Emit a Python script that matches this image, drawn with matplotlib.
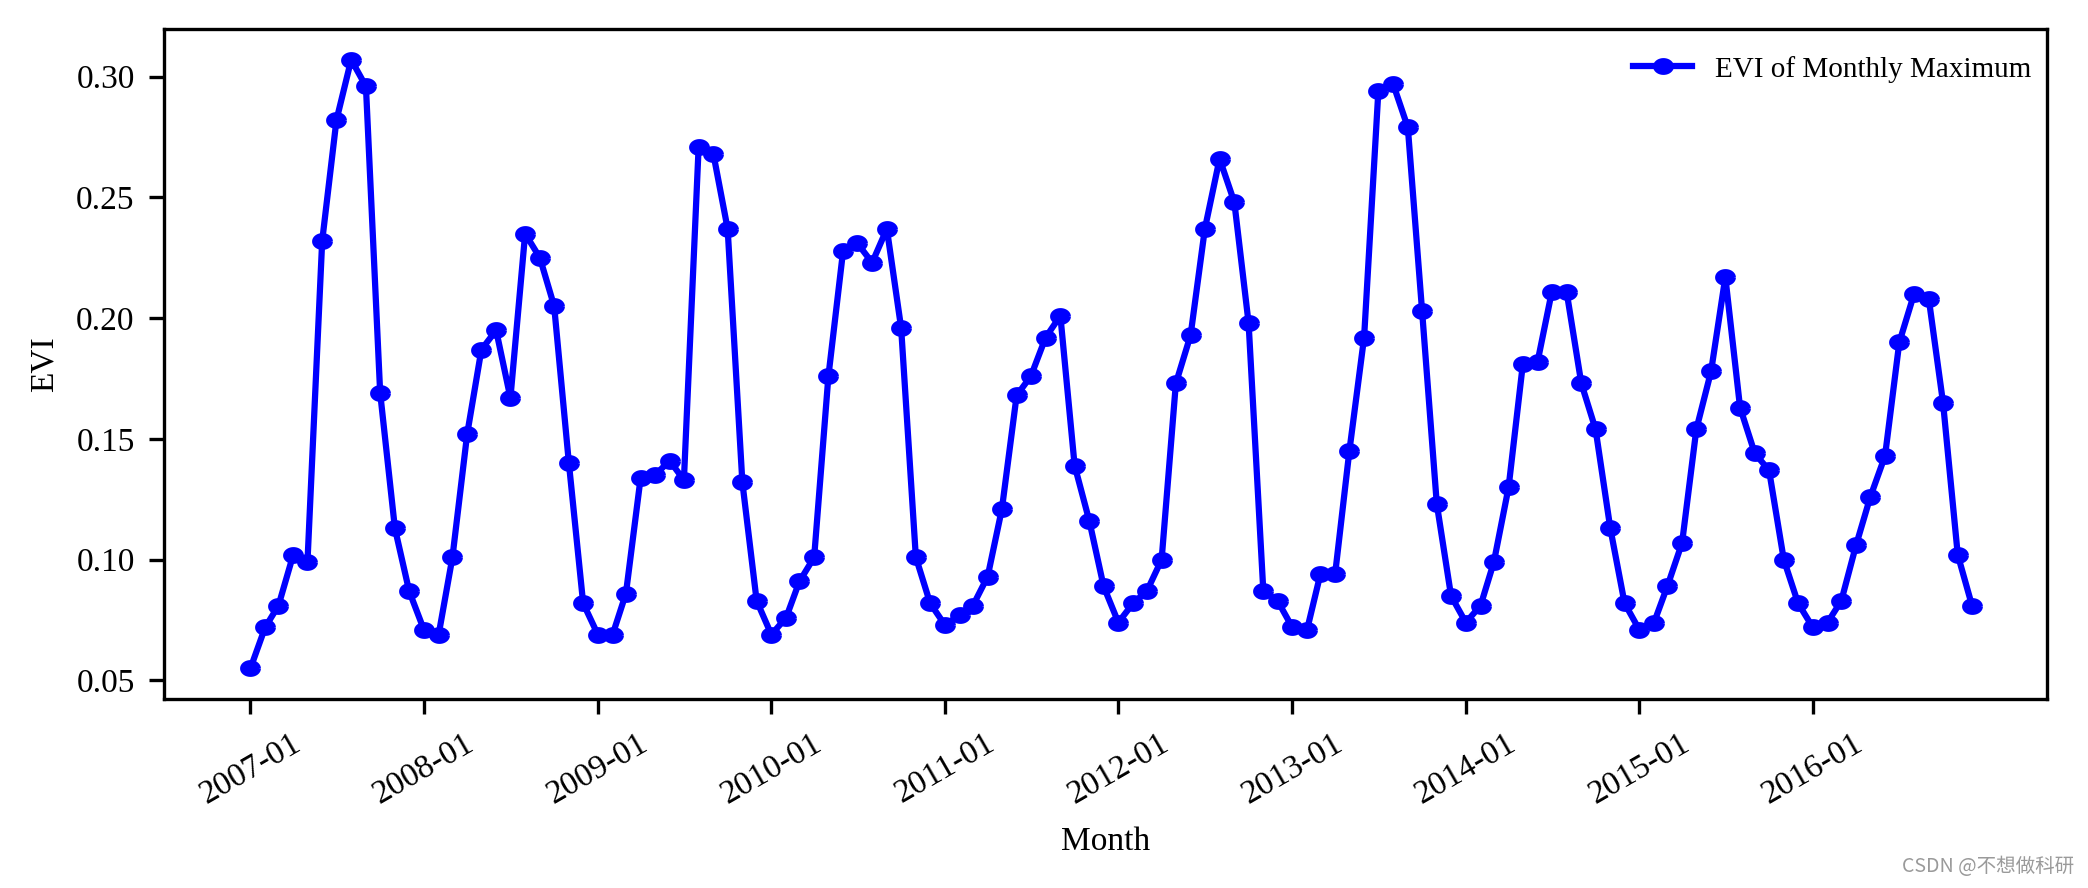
import numpy as np
import pandas as pd
import matplotlib
matplotlib.use("Agg")
import matplotlib.pyplot as plt
import matplotlib.dates as mdates

plt.rcParams['font.family'] = ['Liberation Serif', 'DejaVu Serif']

months = pd.date_range("2007-01-01", "2016-12-01", freq="MS")

evi_2007 = [0.055, 0.072, 0.081, 0.102, 0.099, 0.232, 0.282, 0.307, 0.296, 0.169, 0.113, 0.087]
evi_2008 = [0.071, 0.069, 0.101, 0.152, 0.187, 0.195, 0.167, 0.235, 0.225, 0.205, 0.140, 0.082]
evi_2009 = [0.069, 0.069, 0.086, 0.134, 0.135, 0.141, 0.133, 0.271, 0.268, 0.237, 0.132, 0.083]
evi_2010 = [0.069, 0.076, 0.091, 0.101, 0.176, 0.228, 0.231, 0.223, 0.237, 0.196, 0.101, 0.082]
evi_2011 = [0.073, 0.077, 0.081, 0.093, 0.121, 0.168, 0.176, 0.192, 0.201, 0.139, 0.116, 0.089]
evi_2012 = [0.074, 0.082, 0.087, 0.100, 0.173, 0.193, 0.237, 0.266, 0.248, 0.198, 0.087, 0.083]
evi_2013 = [0.072, 0.071, 0.094, 0.094, 0.145, 0.192, 0.294, 0.297, 0.279, 0.203, 0.123, 0.085]
evi_2014 = [0.074, 0.081, 0.099, 0.130, 0.181, 0.182, 0.211, 0.211, 0.173, 0.154, 0.113, 0.082]
evi_2015 = [0.071, 0.074, 0.089, 0.107, 0.154, 0.178, 0.217, 0.163, 0.144, 0.137, 0.100, 0.082]
evi_2016 = [0.072, 0.074, 0.083, 0.106, 0.126, 0.143, 0.190, 0.210, 0.208, 0.165, 0.102, 0.081]

evi = (evi_2007 + evi_2008 + evi_2009 + evi_2010 + evi_2011 +
       evi_2012 + evi_2013 + evi_2014 + evi_2015 + evi_2016)

series_label = "EVI of Monthly Maximum"

fig = plt.figure(figsize=(2088 / 300, 888 / 300), dpi=300)
ax = fig.add_axes([0.0785, 0.213, 0.9017, 0.754])

t = np.linspace(0, 2 * np.pi, 40)
ellipse = list(zip(np.cos(t), 0.76 * np.sin(t)))

ax.plot(months, evi, color="blue", linewidth=1.5, marker=ellipse,
        markersize=4.0, label=series_label)

ax.set_xlim(months[0] - pd.Timedelta(days=182), months[-1] + pd.Timedelta(days=157))
ax.set_xticks(months[::12])
ax.xaxis.set_major_formatter(mdates.DateFormatter("%Y-%m"))
ax.tick_params(axis="both", labelsize=8)
plt.setp(ax.get_xticklabels(), rotation=30, ha="center")
ax.set_yticks([0.05, 0.10, 0.15, 0.20, 0.25, 0.30])
ax.yaxis.set_major_formatter(matplotlib.ticker.FormatStrFormatter("%.2f"))

ax.set_xlabel("Month", fontsize=8)
ax.set_ylabel("EVI", fontsize=8)
ax.legend(loc="upper right", bbox_to_anchor=(1.0058, 1.0), frameon=False, fontsize=7)

fig.text(0.9935, 0.024, "CSDN @不想做科研", ha="right", va="center",
         fontsize=4.7, color="#9a9a9a",
         family=["Noto Sans CJK SC", "DejaVu Sans"])

fig.savefig("out.png", dpi=300)
